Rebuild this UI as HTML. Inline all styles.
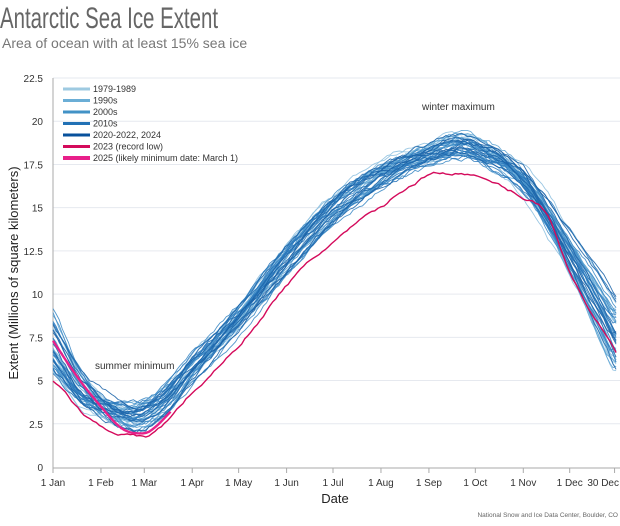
<!DOCTYPE html>
<html><head><meta charset="utf-8"><style>
body{margin:0;background:#fff;width:620px;height:521px;overflow:hidden;font-family:"Liberation Sans",sans-serif}
</style></head><body>
<svg id="s" width="620" height="521" xmlns="http://www.w3.org/2000/svg" font-family="Liberation Sans, sans-serif">
<text x="0" y="28" font-size="30" fill="#666" font-family="Liberation Sans Narrow, Liberation Sans, sans-serif" textLength="218" lengthAdjust="spacingAndGlyphs">Antarctic Sea Ice Extent</text>
<text x="2" y="48" font-size="14" fill="#777">Area of ocean with at least 15% sea ice</text>
<g id="grid"></g>
<line x1="53" y1="78" x2="53" y2="468" stroke="#aaa"/>
<line x1="53" y1="468" x2="620" y2="468" stroke="#aaa"/>
<g id="lines" fill="none"></g>
<g font-size="10" fill="#333">
<text x="95" y="369">summer minimum</text>
<text x="422" y="110">winter maximum</text>
</g>
<g id="leg" font-size="9" fill="#333"></g>
<text x="335" y="503" font-size="13" text-anchor="middle" fill="#222">Date</text>
<text transform="translate(18,273) rotate(-90)" font-size="13" text-anchor="middle" fill="#222">Extent (Millions of square kilometers)</text>
<text x="618" y="517" font-size="6.5" text-anchor="end" fill="#666">National Snow and Ice Data Center, Boulder, CO</text>
</svg>
<script>
const NS="http://www.w3.org/2000/svg";
function el(p,t,a,txt){const e=document.createElementNS(NS,t);for(const k in a)e.setAttribute(k,a[k]);if(txt!=null)e.textContent=txt;p.appendChild(e);return e;}
const Y=v=>467-v*(389/22.5), X=d=>53+d*1.547;
const g=document.getElementById('grid');
for(let i=0;i<=9;i++){const v=i*2.5,y=Y(v);if(i>0)el(g,'line',{x1:53,x2:620,y1:y,y2:y,stroke:'#e6e9ef'});el(g,'text',{x:43,y:y+4,'font-size':10,'text-anchor':'end',fill:'#333'},String(v));}
const tk=[["1 Jan",0],["1 Feb",31],["1 Mar",59],["1 Apr",90],["1 May",120],["1 Jun",151],["1 Jul",181],["1 Aug",212],["1 Sep",243],["1 Oct",273],["1 Nov",304],["1 Dec",334],["30 Dec",363]];
tk.forEach(([l,d])=>{const x=X(d);el(g,'line',{x1:x,x2:x,y1:468,y2:473,stroke:'#aaa'});el(g,'text',{x:l=="30 Dec"?619:x,y:486,'font-size':10,'text-anchor':l=="30 Dec"?'end':'middle',fill:'#333'},l);});
function interp(P,d){let i=0;while(i<P.length-2&&d>P[i+1][0])i++;const p0=P[Math.max(0,i-1)],p1=P[i],p2=P[i+1],p3=P[Math.min(P.length-1,i+2)];
const t=Math.max(0,Math.min(1,(d-p1[0])/(p2[0]-p1[0])));const h=p2[0]-p1[0];
const m1=(p2[1]-p0[1])/(p2[0]-p0[0]||1)*h,m2=(p3[1]-p1[1])/(p3[0]-p1[0]||1)*h;
const t2=t*t,t3=t2*t;return (2*t3-3*t2+1)*p1[1]+(t3-2*t2+t)*m1+(-2*t3+3*t2)*p2[1]+(t3-t2)*m2;}
const clim=[[0,7.3],[20,4.5],[50,2.9],[70,3.6],[90,5.6],[120,8.6],[151,12],[181,14.9],[212,16.9],[243,18.1],[262,18.6],[273,18.4],[304,16.6],[334,12.3],[364,7.4]];
let seed=7;const r=()=>{seed=(seed*16807)%2147483647;return seed/2147483647;};
const L=document.getElementById('lines');
const cols=['#8fc1e0','#5ea4d3','#3f8cc6','#2a78bb','#1c64a8'];
for(let k=0;k<44;k++){const c=cols[Math.min(4,Math.floor(k/9))];
const a0=(r()-0.5)*3.6,aMin=(r()-0.5)*1.6,aMid=(r()-0.5)*1.8,aMax=(r()-0.5)*1.6,aEnd=(r()-0.5)*3.6,sh=(r()-0.5)*10;
const off=[[0,a0],[50,aMin],[110,aMin*0.8+aMid*0.5],[180,aMid],[262,aMax],[320,aMax*0.6+aEnd*0.3],[364,aEnd]];
let w=0,p='';for(let d=0;d<=364;d+=2){w=w*0.85+(r()-0.5)*0.22;
let v=interp(clim,Math.max(0,Math.min(364,d+(d>280?sh:0))))+interp(off,d)+w;
p+=(d?'L':'M')+X(d).toFixed(1)+','+Y(v).toFixed(1);}
el(L,'path',{d:p,stroke:c,'stroke-width':0.9,opacity:0.9});}
const y23=[[0,5],[25,2.7],[52,1.8],[65,1.95],[90,4.3],[120,7],[151,10.5],[181,13],[212,15],[243,16.9],[262,17.0],[273,16.8],[304,15.6],[320,14.6],[334,11.3],[364,6.6]];
let w=0,p='';for(let d=0;d<=364;d+=2){w=w*0.8+(r()-0.5)*0.15;p+=(d?'L':'M')+X(d).toFixed(1)+','+Y(interp(y23,d)+w).toFixed(1);}
el(L,'path',{d:p,stroke:'#d40a5b','stroke-width':1.4});
const y25=[[0,7.3],[15,5.3],[30,3.6],[45,2.2],[59,1.95],[66,2.3],[76,3.2]];
p='';for(let d=0;d<=76;d+=2){p+=(d?'L':'M')+X(d).toFixed(1)+','+Y(interp(y25,d)).toFixed(1);}
el(L,'path',{d:p,stroke:'#e8208a','stroke-width':2.4});
const lg=document.getElementById('leg');
[["1979-1989","#9ecae1",3],["1990s","#6baed6",3],["2000s","#4292c6",3],["2010s","#2171b5",3],["2020-2022, 2024","#08519c",3],["2023 (record low)","#d40a5b",3],["2025 (likely minimum date: March 1)","#e8208a",4]].forEach(([t,c,w],i)=>{const y=89+i*11.5;el(lg,'line',{x1:63,x2:90,y1:y,y2:y,stroke:c,'stroke-width':w});el(lg,'text',{x:93,y:y+3},t);});
</script>
</body></html>
